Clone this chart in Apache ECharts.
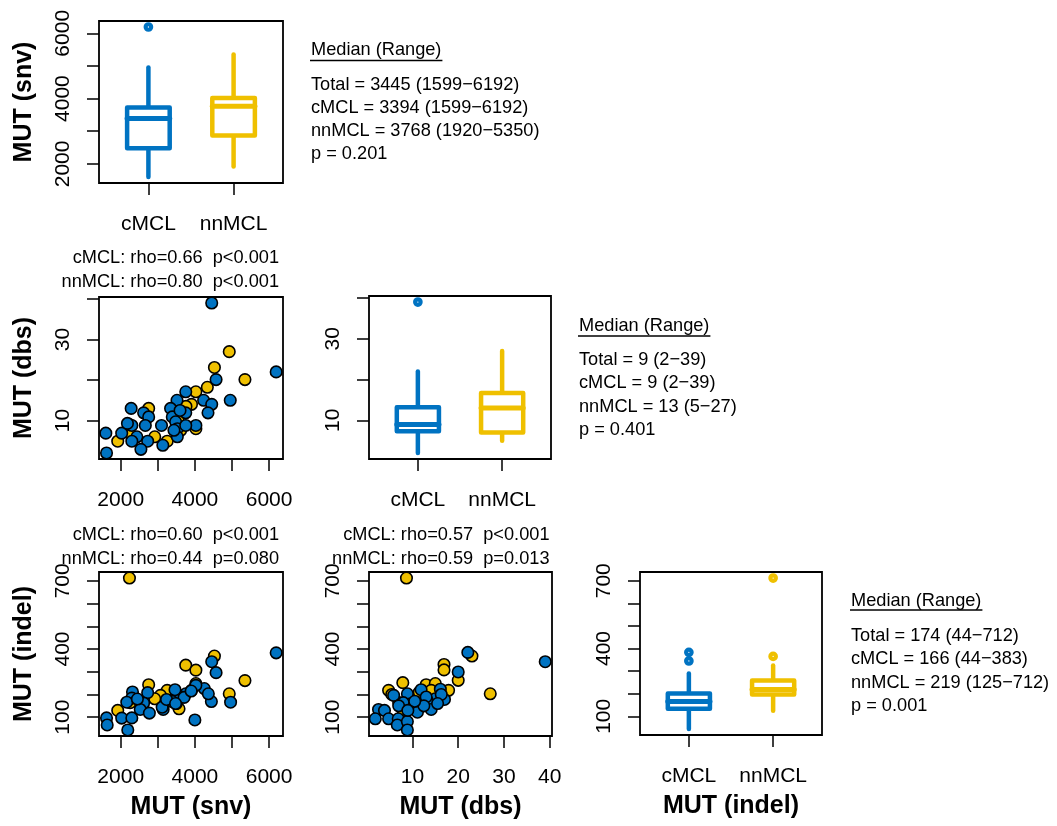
<!DOCTYPE html>
<html>
<head>
<meta charset="utf-8">
<script src="https://cdn.jsdelivr.net/npm/echarts@6/dist/echarts.min.js"></script>
<style>
  html, body { margin: 0; padding: 0; background: #fff; }
  #chart { width: 1057px; height: 826px; }
</style>
</head>
<body>
<div id="chart"></div>
<script>
// ---- groups ----
const groups = ['cMCL', 'nnMCL'];
const groupColors = ['#0073C2', '#EFC000'];

// ---- box statistics: [low whisker, Q1, median, Q3, high whisker] ----
const snvBoxC = [1599, 2480, 3394, 3726, 4954];
const snvBoxN = [1920, 2870, 3768, 4020, 5350];
const snvOutC = [6192];
const snvOutN = [];
const dbsBoxC = [2, 7.3, 9, 13.2, 22];
const dbsBoxN = [5, 7, 13, 16.7, 27];
const dbsOutC = [39];
const dbsOutN = [];
const indelBoxC = [44, 134, 166, 201, 290];
const indelBoxN = [125, 196, 219, 258, 325];
const indelOutC = [345, 383];
const indelOutN = [365, 712];

// ---- per-sample pairs: [x, y] ----
const snvDbsC = [[4454,39],[6192,22],[4572,20.1],[4954,15],[3754,17.1],[4236,15],[4454,14],[3518,15],
  [3345,13],[3754,11.9],[4354,11.9],[2618,11.9],[2282,13],[2754,10.9],[3391,10.9],[2664,8.8],
  [2300,8.8],[3100,8.8],[3482,9.7],[3527,8],[3527,6],[4027,8.8],[1599,6.9],[2027,6.9],[2436,6],
  [2300,4.9],[2727,4.9],[3136,3.9],[2545,2.9],[1618,2],[2182,9.3],[3754,8.8],[3436,7.6],[3600,12.5]];
const snvDbsN = [[4927,27],[4527,23.1],[5350,20.1],[4336,18.2],[4027,17.1],[3909,14],[2754,13],
  [4027,8],[2236,6.9],[1920,4.9],[2918,6],[3254,4.9],[3618,7.6],[2236,9],[3550,10],[3760,13.5]];

const snvIndelC = [[6192,383],[4454,344],[4572,296],[4963,166],[4445,169],[4254,226],[4363,203],
  [3754,203],[3527,199],[3464,221],[3391,169],[3145,134],[3118,144],[2727,208],[2318,211],[2300,184],
  [2618,162],[2527,134],[2773,118],[2164,166],[2027,96],[2300,97],[1618,97],[1636,66],[2191,44],
  [4000,88],[4027,240],[3236,178],[3709,187],[3480,160],[2450,180],[3900,215]];
const snvIndelN = [[2236,712],[4527,369],[3754,329],[4027,307],[5350,261],[4027,248],[4927,203],
  [3909,218],[3254,218],[3573,137],[3073,196],[2918,181],[2754,243],[2254,164],[1920,130],[3500,160]];

const dbsIndelC = [[39,344],[22.1,385],[20,299],[5.9,196],[8.9,203],[11.9,221],[16.1,223],[17,178],
  [15,181],[13.2,174],[14.1,134],[11,166],[9.6,159],[8,164],[11.1,122],[2.6,134],[3.9,130],[1.9,93],
  [4.8,93],[6.9,93],[6.7,66],[8.9,81],[8.9,44],[13,189],[16.3,200],[12.5,150],[10.5,170],[7,150],
  [9,130],[15.5,160]];
const dbsIndelN = [[8.7,712],[23,369],[16.9,332],[16.9,308],[20,262],[27,203],[7.9,252],[4.8,218],
  [7,164],[13,243],[15,248],[14.1,218],[17.9,218],[8,130],[5.5,200],[11.5,210],[9.5,175]];

// ---- axis ranges and ticks ----
const snvRange = [1415, 6376];
const dbsRange = [0.52, 40.48];
const indelRange = [17.3, 738.7];
const groupRange = [0.42, 2.58];
const snvTicks = [2000, 3000, 4000, 5000, 6000];
const snvLabels = [2000, 4000, 6000];
const dbsTicks = [10, 20, 30, 40];
const dbsXLabels = [10, 20, 30, 40];
const dbsYLabels = [10, 30];
const indelTicks = [100, 200, 300, 400, 500, 600, 700];
const indelLabels = [100, 400, 700];

// ---- text blocks ----
const summaryHeader = 'Median (Range)';
const snvSummary = ['Total = 3445 (1599\u22126192)', 'cMCL = 3394 (1599\u22126192)', 'nnMCL = 3768 (1920\u22125350)', 'p = 0.201'];
const dbsSummary = ['Total = 9 (2\u221239)', 'cMCL = 9 (2\u221239)', 'nnMCL = 13 (5\u221227)', 'p = 0.401'];
const indelSummary = ['Total = 174 (44\u2212712)', 'cMCL = 166 (44\u2212383)', 'nnMCL = 219 (125\u2212712)', 'p = 0.001'];
const snvDbsCor = ['cMCL: rho=0.66  p<0.001', 'nnMCL: rho=0.80  p<0.001'];
const snvIndelCor = ['cMCL: rho=0.60  p<0.001', 'nnMCL: rho=0.44  p=0.080'];
const dbsIndelCor = ['cMCL: rho=0.57  p<0.001', 'nnMCL: rho=0.59  p=0.013'];
const varTitles = { snv: 'MUT (snv)', dbs: 'MUT (dbs)', indel: 'MUT (indel)' };

// ---- styling ----
const FONT = "'Liberation Sans', Arial, Helvetica, sans-serif";
const TICK_FS = 21, TITLE_FS = 25, NOTE_FS = 18.2;
const BOX_HALF = 0.25, BOX_LW = 4.5;

const panels = [
  { left: 99,  top: 21,  width: 184, height: 162 },  // snv box
  { left: 99,  top: 297, width: 184, height: 162 },  // snv vs dbs
  { left: 369, top: 296, width: 182, height: 163 },  // dbs box
  { left: 99,  top: 572, width: 184, height: 164 },  // snv vs indel
  { left: 369, top: 572, width: 183, height: 164 },  // dbs vs indel
  { left: 640, top: 572, width: 182, height: 163 }   // indel box
];

const grid = panels.map(p => ({
  left: p.left, top: p.top, width: p.width, height: p.height,
  show: true, borderColor: '#000', borderWidth: 1.8, backgroundColor: 'transparent'
}));

const plainNumber = v => String(v);
const groupFormatter = v => groups[Math.round(v) - 1] || '';

function valueAxis(gridIndex, range, ticks, labels, opts) {
  const isY = opts.dim === 'y';
  return Object.assign({
    type: 'value', gridIndex, min: range[0], max: range[1],
    splitLine: { show: false },
    axisLine: { show: false },
    axisTick: { show: true, length: 12, lineStyle: { color: '#000', width: 1.5 }, customValues: ticks },
    axisLabel: {
      show: true, customValues: labels, color: '#000',
      fontFamily: FONT, fontSize: TICK_FS,
      rotate: isY ? 90 : 0, margin: isY ? 25 : 31,
      formatter: opts.formatter || plainNumber
    },
    nameTextStyle: { fontFamily: FONT, fontSize: TITLE_FS, fontWeight: 'bold', color: '#000' },
    nameLocation: 'middle'
  }, opts.extra || {});
}

const xAxis = [
  valueAxis(0, groupRange, [1, 2], [1, 2], { dim: 'x', formatter: groupFormatter }),
  valueAxis(1, snvRange, snvTicks, snvLabels, { dim: 'x' }),
  valueAxis(2, groupRange, [1, 2], [1, 2], { dim: 'x', formatter: groupFormatter }),
  valueAxis(3, snvRange, snvTicks, snvLabels, { dim: 'x', extra: { name: varTitles.snv, nameGap: 59 } }),
  valueAxis(4, dbsRange, dbsTicks, dbsXLabels, { dim: 'x', extra: { name: varTitles.dbs, nameGap: 59 } }),
  valueAxis(5, groupRange, [1, 2], [1, 2], { dim: 'x', formatter: groupFormatter, extra: { name: varTitles.indel, nameGap: 59 } })
];
const yAxis = [
  valueAxis(0, snvRange, snvTicks, snvLabels, { dim: 'y', extra: { name: varTitles.snv, nameGap: 62 } }),
  valueAxis(1, dbsRange, dbsTicks, dbsYLabels, { dim: 'y', extra: { name: varTitles.dbs, nameGap: 62 } }),
  valueAxis(2, dbsRange, dbsTicks, dbsYLabels, { dim: 'y' }),
  valueAxis(3, indelRange, indelTicks, indelLabels, { dim: 'y', extra: { name: varTitles.indel, nameGap: 62 } }),
  valueAxis(4, indelRange, indelTicks, indelLabels, { dim: 'y' }),
  valueAxis(5, indelRange, indelTicks, indelLabels, { dim: 'y' })
];

// Box without whisker caps: whiskers, box outline, thick median bar
function renderBox(params, api) {
  const g = api.value(0);
  const lo = api.value(1), q1 = api.value(2), med = api.value(3), q3 = api.value(4), hi = api.value(5);
  const color = groupColors[g - 1];
  const pLo = api.coord([g, lo]), pQ1 = api.coord([g, q1]), pMed = api.coord([g, med]);
  const pQ3 = api.coord([g, q3]), pHi = api.coord([g, hi]);
  const xl = api.coord([g - BOX_HALF, q1])[0], xr = api.coord([g + BOX_HALF, q1])[0];
  const st = { stroke: color, lineWidth: BOX_LW, lineCap: 'round', lineJoin: 'round', fill: null };
  return {
    type: 'group',
    children: [
      { type: 'line', shape: { x1: pLo[0], y1: pLo[1], x2: pQ1[0], y2: pQ1[1] }, style: st },
      { type: 'line', shape: { x1: pQ3[0], y1: pQ3[1], x2: pHi[0], y2: pHi[1] }, style: st },
      { type: 'rect', shape: { x: xl, y: pQ3[1], width: xr - xl, height: pQ1[1] - pQ3[1] },
        style: Object.assign({}, st, { fill: '#fff' }) },
      { type: 'line', shape: { x1: xl, y1: pMed[1], x2: xr, y2: pMed[1] },
        style: Object.assign({}, st, { lineWidth: 5 }) }
    ]
  };
}

function boxSeries(idx, statsC, statsN, outC, outN) {
  const out = [];
  out.push({
    type: 'custom', xAxisIndex: idx, yAxisIndex: idx, renderItem: renderBox,
    data: [[1].concat(statsC), [2].concat(statsN)], silent: true, z: 2
  });
  [outC, outN].forEach((vals, gi) => {
    out.push({
      type: 'scatter', xAxisIndex: idx, yAxisIndex: idx, symbol: 'circle', symbolSize: 5.5,
      data: vals.map(v => [gi + 1, v]),
      itemStyle: { color: '#fff', borderColor: groupColors[gi], borderWidth: 4.2, opacity: 1 },
      silent: true, z: 3
    });
  });
  return out;
}

function pairSeries(idx, dataC, dataN) {
  // nnMCL drawn first, cMCL on top
  return [[dataN, 1], [dataC, 0]].map(([d, gi], k) => ({
    type: 'scatter', xAxisIndex: idx, yAxisIndex: idx, symbol: 'circle', symbolSize: 11.5,
    data: d,
    itemStyle: { color: groupColors[gi], borderColor: '#000', borderWidth: 1.6, opacity: 1 },
    silent: true, z: 3 + k
  }));
}

const series = [].concat(
  boxSeries(0, snvBoxC, snvBoxN, snvOutC, snvOutN),
  pairSeries(1, snvDbsC, snvDbsN),
  boxSeries(2, dbsBoxC, dbsBoxN, dbsOutC, dbsOutN),
  pairSeries(3, snvIndelC, snvIndelN),
  pairSeries(4, dbsIndelC, dbsIndelN),
  boxSeries(5, indelBoxC, indelBoxN, indelOutC, indelOutN)
);

// ---- annotation text ----
const measureCtx = document.createElement('canvas').getContext('2d');
function textWidth(s, fs) { measureCtx.font = fs + 'px ' + FONT; return measureCtx.measureText(s).width; }

function noteText(s, x, y, align) {
  return {
    type: 'text', x: x, y: y, silent: true,
    style: { text: s, fill: '#000', font: NOTE_FS + 'px ' + FONT, textAlign: align || 'left', textVerticalAlign: 'middle' }
  };
}
function summaryBlock(lines, x, yHead, yUnder, yFirst, step) {
  const w = textWidth(summaryHeader, NOTE_FS);
  const els = [noteText(summaryHeader, x, yHead)];
  els.push({ type: 'line', silent: true, shape: { x1: x - 1, y1: yUnder, x2: x + w + 1, y2: yUnder },
             style: { stroke: '#000', lineWidth: 1.6 } });
  lines.forEach((s, i) => els.push(noteText(s, x, yFirst + i * step)));
  return els;
}
function corBlock(lines, xRight, y1, y2) {
  return [noteText(lines[0], xRight, y1, 'right'), noteText(lines[1], xRight, y2, 'right')];
}

const graphic = [].concat(
  summaryBlock(snvSummary, 311, 49.5, 60.5, 84.5, 23.3),
  summaryBlock(dbsSummary, 579, 325.5, 336, 360, 23.3),
  summaryBlock(indelSummary, 851, 601, 610, 636, 23.3),
  corBlock(snvDbsCor, 279, 258, 282),
  corBlock(snvIndelCor, 279, 535, 559),
  corBlock(dbsIndelCor, 549.5, 535, 559)
);

const chart = echarts.init(document.getElementById('chart'), null, { renderer: 'canvas' });
chart.setOption({
  animation: false,
  backgroundColor: '#fff',
  textStyle: { fontFamily: FONT },
  grid, xAxis, yAxis, series, graphic
});
</script>
</body>
</html>
